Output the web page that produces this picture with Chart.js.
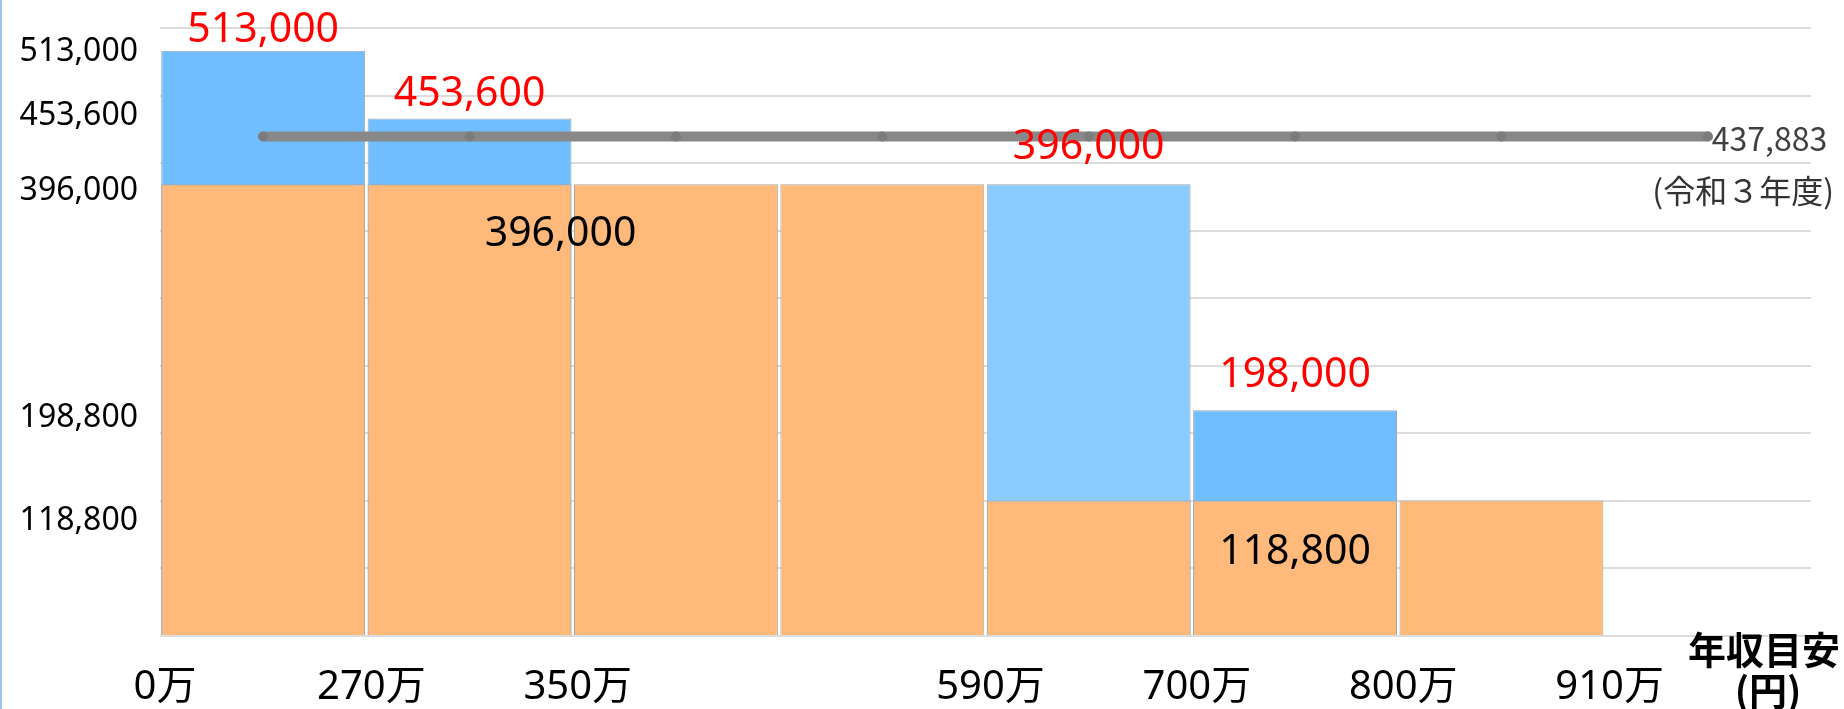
<!DOCTYPE html>
<html lang="ja">
<head>
<meta charset="utf-8">
<title>年収目安</title>
<script src="https://cdn.jsdelivr.net/npm/chart.js@4.4.1/dist/chart.umd.min.js"></script>
<style>
  html, body { margin: 0; padding: 0; background: #fff; }
  #wrap { position: relative; width: 1844px; height: 709px; }
  #edge { position: absolute; left: 0; top: 0; width: 2px; height: 709px; background: #9dc3e6; }
</style>
</head>
<body>
<div id="wrap">
  <canvas id="chart" width="1844" height="709"></canvas>
  <div id="edge"></div>
</div>
<script>
// --- Données ---
const brackets = ['〜270万', '270〜350万', '350万〜 (a)', '(b) 〜590万', '590〜700万', '700〜800万', '800〜910万', '910万〜'];
const boundaryLabels = ['0万', '270万', '350万', '', '590万', '700万', '800万', '910万'];
const baseAmounts = [396000, 396000, 396000, 396000, 118800, 118800, 118800, null];
const totalAmounts = [513000, 453600, null, null, 396000, 198000, null, null];
const averageLine = [437883, 437883, 437883, 437883, 437883, 437883, 437883, 437883];
const yTickValues = [118800, 198800, 396000, 453600, 513000];
const yMax = 533000;

// décalage vertical (px) des étiquettes de l'axe Y, comme les zones de texte de l'original
const yLabelNudge = { 118800: 20, 198800: 9, 396000: 7, 453600: -3, 513000: 1 };

const NUM_FONT = '"Noto Sans", "Noto Sans CJK JP", sans-serif';
const JP_FONT = '"Noto Sans CJK JP", "Noto Sans", sans-serif';
const fmt = v => v.toLocaleString('en-US');

// --- Couleurs ---
const ORANGE = '#ffb97a';
const BLUE = '#70beff';
const BLUE_LIGHT = '#89caff';
const blueColors = [BLUE, BLUE, BLUE, BLUE, BLUE_LIGHT, BLUE, BLUE, BLUE];

// pas de marge réservée par les axes (la zone du graphe est fixée par layout.padding)
const noPadding = s => {
  s.paddingTop = 0;
  s.paddingBottom = 0;
  s.paddingLeft = 0;
  s.paddingRight = 0;
};

// Étiquettes de valeurs sur les barres
const barLabels = {
  id: 'barLabels',
  afterDatasetsDraw(chart, args, opts) {
    const ctx = chart.ctx;
    ctx.save();
    ctx.textAlign = 'center';
    ctx.textBaseline = 'middle';
    opts.items.forEach(it => {
      const el = chart.getDatasetMeta(it.dataset).data[it.index];
      const value = chart.data.datasets[it.dataset].data[it.index];
      ctx.font = '41px ' + NUM_FONT;
      ctx.fillStyle = it.color;
      ctx.fillText(fmt(value), el.x + (it.dx || 0), el.y + it.dy);
    });

    // valeur de la ligne, à droite du dernier point
    const lineMeta = chart.getDatasetMeta(2);
    const last = lineMeta.data[lineMeta.data.length - 1];
    const lineVals = chart.data.datasets[2].data;
    ctx.font = '32px ' + JP_FONT;
    ctx.fillStyle = '#404040';
    ctx.textAlign = 'left';
    ctx.fillText(fmt(lineVals[lineVals.length - 1]), last.x + 4, last.y + 2);
    ctx.font = '32px ' + JP_FONT;
    ctx.textAlign = 'right';
    ctx.fillStyle = '#333';
    ctx.fillText('(令和３年度)', chart.width - 10, last.y + 54);

    // titre de l'axe
    ctx.fillStyle = '#000';
    ctx.font = 'bold 38px ' + JP_FONT;
    ctx.fillText('年収目安', chart.width - 4, 650);
    ctx.textAlign = 'center';
    ctx.fillText('(円)', chart.width - 76, 691);
    ctx.restore();
  }
};

new Chart(document.getElementById('chart'), {
  type: 'bar',
  data: {
    labels: brackets,
    datasets: [
      {
        label: '基本',
        data: baseAmounts,
        backgroundColor: ORANGE,
        borderColor: '#a6a6a6',
        borderWidth: 1,
        grouped: false,
        order: 1,
        xAxisID: 'x',
        yAxisID: 'y'
      },
      {
        label: '上乗せ',
        data: totalAmounts,
        backgroundColor: blueColors,
        borderColor: '#a6a6a6',
        borderWidth: 1,
        grouped: false,
        order: 2,
        xAxisID: 'x',
        yAxisID: 'y'
      },
      {
        type: 'line',
        label: '平均',
        data: averageLine,
        borderColor: '#888888',
        borderWidth: 10,
        borderCapStyle: 'round',
        pointRadius: 5,
        pointBackgroundColor: '#7c7c7c',
        pointBorderWidth: 0,
        order: 0,
        xAxisID: 'x',
        yAxisID: 'y'
      }
    ]
  },
  options: {
    responsive: false,
    animation: false,
    events: [],
    categoryPercentage: 1,
    barPercentage: 0.988,
    layout: { padding: { top: 28, right: 33, left: 0, bottom: 0 } },
    plugins: {
      legend: { display: false },
      tooltip: { enabled: false },
      barLabels: {
        items: [
          { dataset: 1, index: 0, dy: -21, color: '#ff0000' },
          { dataset: 1, index: 1, dy: -24, color: '#ff0000' },
          { dataset: 1, index: 4, dy: -37, color: '#ff0000' },
          { dataset: 1, index: 5, dy: -35, color: '#ff0000' },
          { dataset: 0, index: 1, dx: 91, dy: 50, color: '#000' },
          { dataset: 0, index: 5, dx: 0, dy: 52, color: '#000' }
        ]
      }
    },
    scales: {
      x: {
        type: 'category',
        display: false
      },
      x2: {
        type: 'linear',
        position: 'bottom',
        min: 0,
        max: 8,
        offset: false,
        afterBuildTicks: s => { s.ticks = boundaryLabels.map((_, i) => ({ value: i })); },
        ticks: {
          callback: v => boundaryLabels[v],
          font: { family: NUM_FONT, size: 40 },
          color: '#000',
          padding: 28,
          labelOffset: 5,
          autoSkip: false,
          maxRotation: 0
        },
        grid: { display: false, drawTicks: false, offset: false },
        border: { display: false },
        afterFit: s => { s.height = 73; noPadding(s); }
      },
      y: {
        position: 'right',
        min: 0,
        max: yMax,
        ticks: { display: false, count: 10 },
        grid: { color: '#dcdcdc', lineWidth: 2, drawTicks: false },
        border: { display: false },
        afterFit: s => { s.width = 0; noPadding(s); }
      },
      yl: {
        position: 'left',
        min: 0,
        max: yMax,
        afterBuildTicks: s => { s.ticks = yTickValues.map(v => ({ value: v })); },
        ticks: {
          // une ligne vide au-dessus / au-dessous décale le texte de lineHeight / 2
          callback: v => {
            const d = yLabelNudge[v] || 0;
            if (d > 0) return ['', fmt(v)];
            if (d < 0) return [fmt(v), ''];
            return fmt(v);
          },
          font: c => {
            const v = c.tick ? c.tick.value : 0;
            const d = Math.abs(yLabelNudge[v] || 0);
            return { family: NUM_FONT, size: 32, lineHeight: d ? (2 * d) + 'px' : 1.2 };
          },
          color: '#000',
          padding: 22,
          autoSkip: false
        },
        grid: { display: false, drawTicks: false },
        border: { display: false },
        afterFit: s => { s.width = 160; noPadding(s); }
      }
    }
  },
  plugins: [barLabels]
});
</script>
</body>
</html>
